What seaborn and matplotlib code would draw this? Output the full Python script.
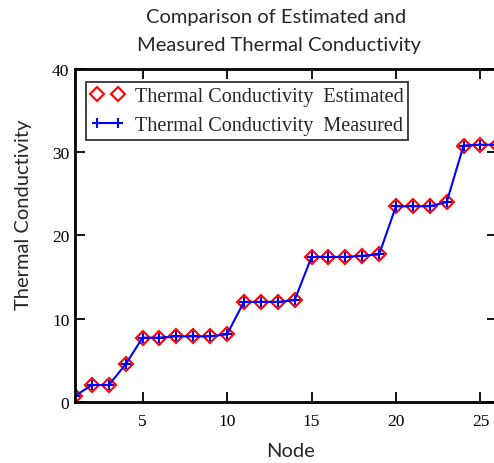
import matplotlib
matplotlib.use('Agg')
import matplotlib.pyplot as plt
import seaborn as sns
import pandas as pd

# values
nodes = list(range(1, 27))
estimated = [0.7, 2.0, 2.0, 4.5, 7.7, 7.7, 7.85, 7.85, 7.85, 8.1,
             12.0, 12.0, 12.0, 12.2, 17.4, 17.4, 17.4, 17.55, 17.7,
             23.5, 23.5, 23.5, 24.0, 30.8, 30.9, 30.9]
measured = [0.7, 2.0, 2.0, 4.5, 7.7, 7.7, 7.85, 7.85, 7.85, 8.1,
            12.0, 12.0, 12.0, 12.2, 17.4, 17.4, 17.4, 17.55, 17.7,
            23.5, 23.5, 23.5, 24.0, 30.8, 30.9, 30.9]
x_ticks = [5, 10, 15, 20, 25]
y_ticks = [0, 10, 20, 30, 40]

df = pd.DataFrame({'Node': nodes, 'Estimated': estimated, 'Measured': measured})

sns.set_theme(style='white')
plt.rcParams['font.family'] = ['Liberation Serif', 'DejaVu Serif']
sans = ['Lato', 'DejaVu Sans']

fig = plt.figure(figsize=(4.94, 4.64), dpi=100)
ax = fig.add_axes([0.1518, 0.1321, 0.855, 0.717])

sns.lineplot(data=df, x='Node', y='Estimated', ax=ax, linestyle='', marker='D',
             markersize=7, markerfacecolor='none', markeredgecolor='red',
             markeredgewidth=1.5, color='red', label='Thermal Conductivity  Estimated')
sns.lineplot(data=df, x='Node', y='Measured', ax=ax, color='blue', linewidth=1.5,
             marker='+', markersize=7.5, markeredgewidth=1.5, markeredgecolor='blue',
             label='Thermal Conductivity  Measured')

ax.set_xlim(1, 26)
ax.set_ylim(0, 40)
ax.set_xticks(x_ticks)
ax.set_yticks(y_ticks)
ax.tick_params(direction='in', length=7, width=1.3, top=True, right=True,
               bottom=True, left=True, labelsize=12.5, colors='black')
ax.tick_params(axis='x', pad=8)
ax.tick_params(axis='y', pad=4)
for sp in ax.spines.values():
    sp.set_visible(True)
    sp.set_color('black')
    sp.set_linewidth(2)

ax.set_xlabel('')
ax.set_ylabel('')
fig.text(290 / 494, 1 - 452 / 464, 'Node', ha='center', va='center',
         family=sans, fontsize=14.5)
fig.text(23 / 494, 1 - 215 / 464, 'Thermal Conductivity', ha='center', va='center',
         rotation=90, family=sans, fontsize=14.5)
fig.text(276 / 494, 1 - 17 / 464, 'Comparison of Estimated and', ha='center',
         va='center', family=sans, fontsize=14.5)
fig.text(279 / 494, 1 - 45 / 464, 'Measured Thermal Conductivity', ha='center',
         va='center', family=sans, fontsize=14.5)

leg = ax.legend(loc='upper left', bbox_to_anchor=(0.026, 0.961), fontsize=14.5,
                numpoints=2, handlelength=1.66, handletextpad=0.5, borderpad=0.25,
                labelspacing=0.5, fancybox=False, frameon=True, borderaxespad=0)
leg.get_frame().set_edgecolor('black')
leg.get_frame().set_linewidth(1.3)

fig.savefig('out.png', dpi=100)
